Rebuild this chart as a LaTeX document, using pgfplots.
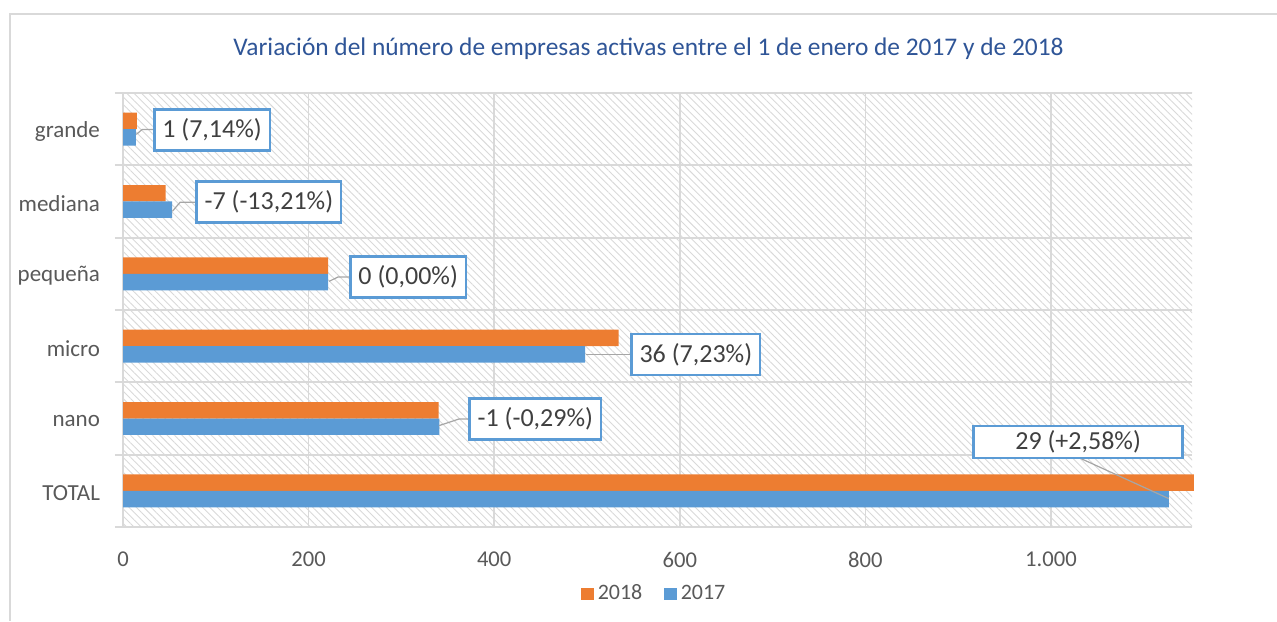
\documentclass[border=0pt]{standalone}
\usepackage{fontspec}
\setmainfont{Carlito}
\usepackage{pgfplots}
\pgfplotsset{compat=1.18}
\usetikzlibrary{patterns.meta}
\definecolor{orangeb}{HTML}{ED7D31}
\definecolor{blueb}{HTML}{5B9BD5}
\definecolor{gridc}{HTML}{D9D9D9}
\definecolor{txt}{HTML}{595959}
\definecolor{lbl}{HTML}{404040}
\definecolor{ttl}{HTML}{2F5597}
\definecolor{leadc}{HTML}{A6A6A6}
\begin{document}
\begin{tikzpicture}[x=1pt,y=1pt,
  box/.style={draw=blueb, line width=1.3pt, fill=white, text=lbl, font=\fontsize{13}{15}\selectfont, inner xsep=4pt, minimum height=20.5pt},
  leader/.style={draw=leadc, line width=0.6pt}]
\useasboundingbox (0,0) rectangle (638.5,310.5);
\draw[gridc, line width=0.7pt] (638.5,303.5) -- (5,303.5) -- (5,0);
\node[ttl, font=\fontsize{12.7}{15}\selectfont] at (324.25,286) {Variación del número de empresas activas entre el 1 de enero de 2017 y de 2018};
\begin{axis}[
  at={(61.5pt,47pt)}, anchor=south west,
  width=534.5pt, height=217pt, scale only axis,
  xbar, bar width=0.228,
  xmin=0, xmax=1152, ymin=-0.5, ymax=5.5,
  clip=false,
  axis background/.style={pattern={Lines[angle=-45,distance=2.6pt,line width=0.45pt]}, pattern color=gray!30},
  xtick={0,200,...,1000},
  ytick={0,...,5},
  yticklabels={TOTAL,nano,micro,pequeña,mediana,grande},
  minor ytick={-0.5,0.5,...,5.5},
  xmajorgrids, yminorgrids,
  grid style={gridc, line width=0.85pt},
  minor grid style={gridc, line width=0.85pt},
  axis x line*=bottom, axis y line*=left,
  axis line style={gridc, line width=0.85pt, -},
  major tick length=0pt, minor tick length=4pt, tick align=outside,
  tick style={gridc, line width=0.85pt},
  xticklabel style={font=\fontsize{11.3}{13}\selectfont, text=txt, yshift=-9pt},
  yticklabel style={font=\fontsize{11.5}{13}\selectfont, text=txt, xshift=-8pt, yshift=-1pt},
  /pgf/number format/.cd, 1000 sep={.}, assume math mode=true,
  /pgfplots/.cd,
  legend style={at={(0.498,-0.154)}, anchor=center, legend columns=2, draw=none, fill=none,
    font=\fontsize{11}{13}\selectfont, text=txt,
    /tikz/every even column/.append style={column sep=9pt}},
  legend image code/.code={\fill[#1,/tikz/.cd,draw=none] (0pt,-3.1pt) rectangle (6.2pt,3.1pt);},
]
\addplot[fill=orangeb, draw=none, bar shift=0.114] coordinates {(1154,0) (340,1) (534,2) (221,3) (46,4) (15,5)};
\addlegendentry{2018}
\addplot[fill=blueb, draw=none, bar shift=-0.114] coordinates {(1127,0) (341,1) (498,2) (221,3) (53,4) (14,5)};
\addlegendentry{2017}

\draw[leader] (axis cs:14.3,4.927) -- (axis cs:20.5,4.994) -- (axis cs:32.7,4.994);
\node[box] at (axis cs:96,4.991) {1 (7,14\%)};
\draw[leader] (axis cs:53.2,3.864) -- (axis cs:61.5,3.989) -- (axis cs:77.6,3.989);
\node[box] at (axis cs:157.2,3.991) {-7 (-13,21\%)};
\draw[leader] (axis cs:222.1,2.896) -- (axis cs:231.8,2.957) -- (axis cs:244.0,2.957);
\node[box] at (axis cs:307.3,2.959) {0 (0,00\%)};
\draw[leader] (axis cs:498.9,1.883) -- (axis cs:546.6,1.883);
\node[box] at (axis cs:617.3,1.883) {36 (7,23\%)};
\draw[leader] (axis cs:340.4,0.901) -- (axis cs:362.3,0.994) -- (axis cs:372.3,0.994);
\node[box] at (axis cs:444.4,0.991) {-1 (-0,29\%)};
\draw[leader] (axis cs:1031.8,0.449) -- (axis cs:1127,-0.108);
\node[box, minimum width=104.5pt, minimum height=16pt, inner ysep=1pt] at (axis cs:1029.3,0.676) {29 (+2,58\%)};
\end{axis}
\end{tikzpicture}
\end{document}
